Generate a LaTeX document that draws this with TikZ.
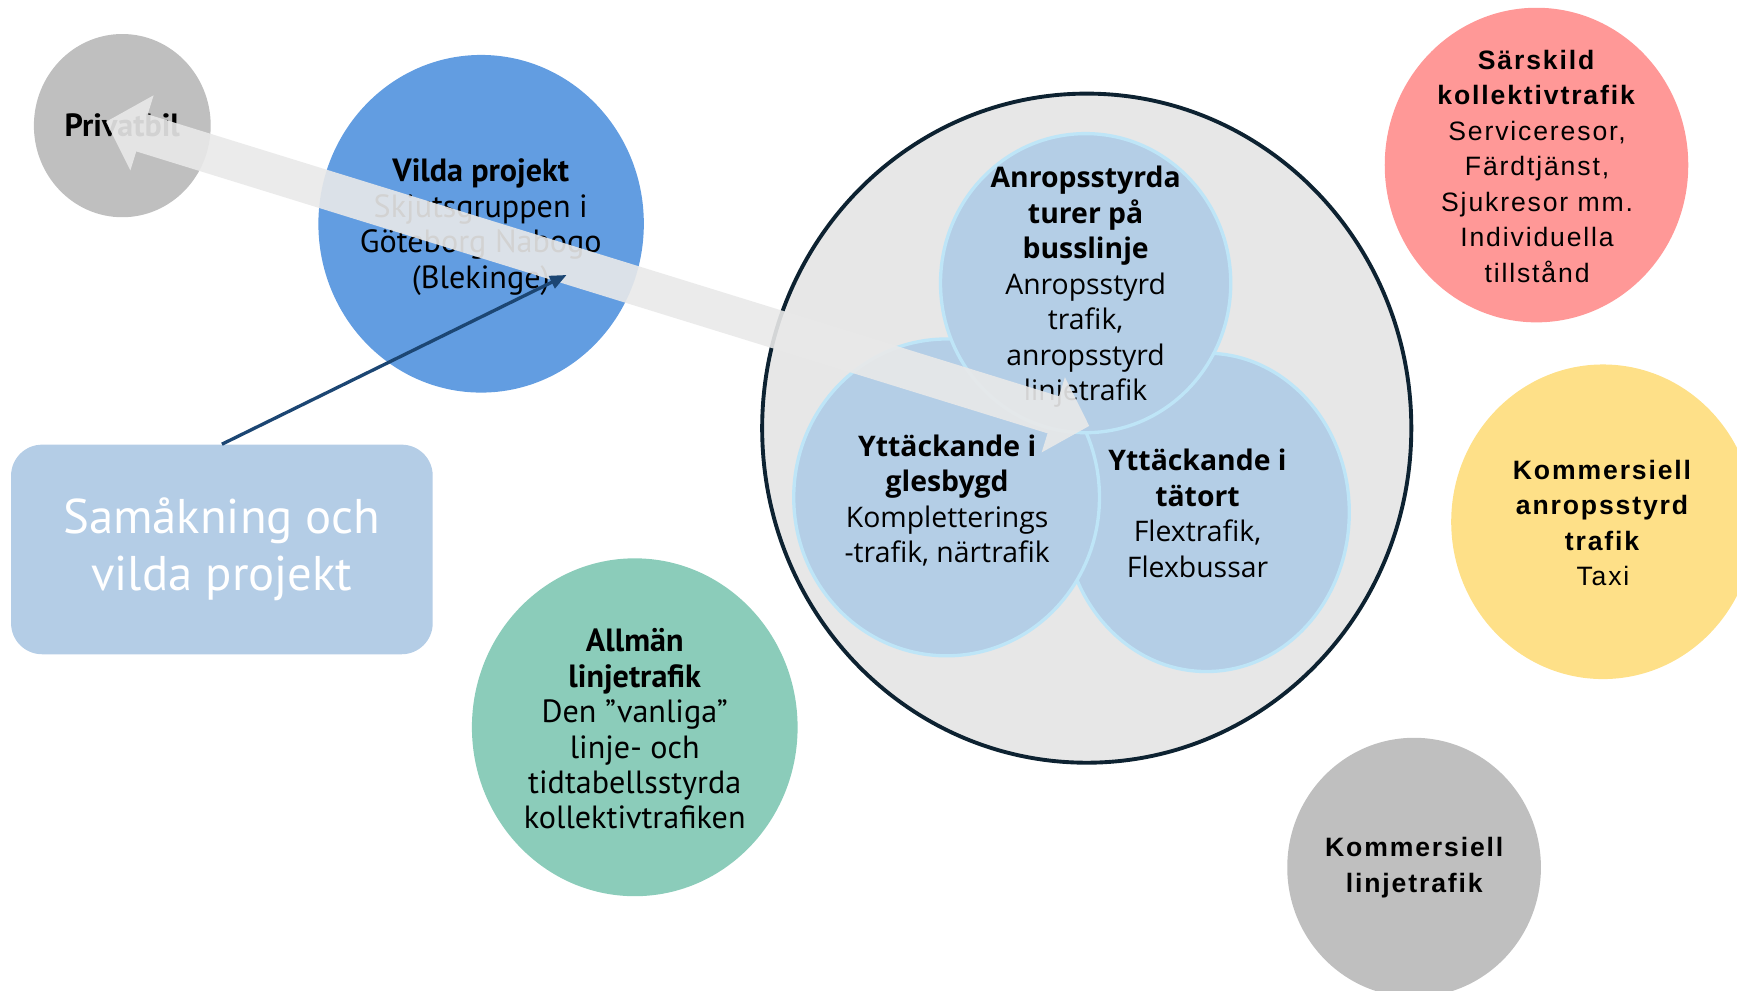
\documentclass[tikz,border=0pt]{standalone}
\usepackage{fontspec}
\setmainfont{PT Sans}
\newfontfamily\vennfont{Open Sans}
\newfontfamily\widefont[LetterSpace=7]{Liberation Sans}
\usetikzlibrary{shapes.geometric,arrows.meta}

\definecolor{bilgrey}{HTML}{BFBFBF}
\definecolor{vildablue}{HTML}{629DE1}
\definecolor{boxblue}{HTML}{B4CDE6}
\definecolor{vennblue}{HTML}{B4CEE6}
\definecolor{vennedge}{HTML}{BEE5F7}
\definecolor{outergrey}{HTML}{E7E7E7}
\definecolor{outeredge}{HTML}{0D2231}
\definecolor{sarskildred}{HTML}{FF9897}
\definecolor{taxiyellow}{HTML}{FEE088}
\definecolor{allmangreen}{HTML}{8BCCBA}
\definecolor{flowgrey}{HTML}{E9E9E9}
\definecolor{pointerblue}{HTML}{1C4673}

\tikzset{
  bubble/.style={ellipse, inner sep=0pt, draw=none},
  vennpart/.style={ellipse, inner sep=0pt, fill=vennblue, draw=vennedge, line width=1.5pt},
  plaintext/.style={align=center, inner sep=0pt, font=\fontsize{14.5}{16}\selectfont},
  venntext/.style={align=center, inner sep=0pt, font=\vennfont\fontsize{12.8}{16}\selectfont},
  widetext/.style={align=center, inner sep=0pt, font=\widefont\fontsize{12}{16}\selectfont},
}

\begin{document}
\begin{tikzpicture}[x=0.5pt,y=-0.5pt]
  \useasboundingbox (0,0) rectangle (1568,893.7);
  \clip (0,0) rectangle (1568,893.7);

  \node[bubble, fill=outergrey, draw=outeredge, line width=1.75pt,
    minimum width=293pt, minimum height=302pt] (outer) at (981,386.5) {};
  \node[vennpart, minimum width=129pt, minimum height=143.7pt] (tatort) at (1089,462.5) {};
  \node[vennpart, minimum width=138pt, minimum height=143pt] (glesbygd) at (854.5,449) {};
  \node[vennpart, minimum width=131pt, minimum height=135pt] (busslinje) at (980,255.6) {};

  \node[venntext] (busslinjetext) at (980,259) {\textbf{Anropsstyrda}\\\textbf{turer på}\\\textbf{busslinje}\\
    Anropsstyrd\\trafik,\\anropsstyrd\\linjetrafik};
  \node[venntext] (glesbygdtext) at (855,452) {\textbf{Yttäckande i}\\\textbf{glesbygd}\\
    Kompletterings\\-trafik, närtrafik};
  \node[venntext] (tatorttext) at (1081,463.5) {\textbf{Yttäckande i}\\\textbf{tätort}\\
    Flextrafik,\\Flexbussar};

  \node[bubble, fill=bilgrey, minimum width=79.8pt, minimum height=82.7pt] (privatbil) at (110.4,113.4) {};
  \node[plaintext] (privatbiltext) at (privatbil) {\textbf{Privatbil}};

  \node[bubble, fill=vildablue, minimum width=146.9pt, minimum height=152.4pt] (vilda) at (434.3,202) {};
  \node[plaintext] (vildatext) at (434,205) {\textbf{Vilda projekt}\\Skjutsgruppen i\\Göteborg Nabogo\\(Blekinge)};

  \node[bubble, fill=allmangreen, minimum width=147pt, minimum height=152.5pt] (allman) at (573,656.5) {};
  \node[plaintext] (allmantext) at (573,658) {\textbf{Allmän}\\\textbf{linjetrafik}\\Den ”vanliga”\\
    linje- och\\tidtabellsstyrda\\kollektivtrafiken};

  \node[bubble, fill=sarskildred, minimum width=137pt, minimum height=142pt] (sarskild) at (1387,149) {};
  \node[widetext] (sarskildtext) at (1387.5,150) {\textbf{Särskild}\\\textbf{kollektivtrafik}\\
    Serviceresor,\\Färdtjänst,\\Sjukresor mm.\\Individuella\\tillstånd};

  \node[bubble, fill=taxiyellow, minimum width=137pt, minimum height=142pt] (taxi) at (1447,471) {};
  \node[widetext] (taxitext) at (1447,472) {\textbf{Kommersiell}\\\textbf{anropsstyrd}\\\textbf{trafik}\\Taxi};

  \node[bubble, fill=bilgrey, minimum width=114.5pt, minimum height=117pt] (kommersiell) at (1276.5,783) {};
  \node[widetext] (kommersielltext) at (1277.5,783) {\textbf{Kommersiell}\\\textbf{linjetrafik}};

  \node[rectangle, rounded corners=14pt, fill=boxblue, inner sep=0pt,
    minimum width=190.3pt, minimum height=94.6pt, text=white, align=center,
    font=\fontsize{22}{26}\selectfont] (samakning) at (200.3,496) {Samåkning och\\vilda projekt};

  \coordinate (privtip) at (95.7,109.9);
  \coordinate (venntip) at (983.3,384.5);
  \coordinate (vildatip) at (511.5,248.2);

  \begin{scope}[transparency group, opacity=0.9]
    \draw[flowgrey, line width=17.5pt,
      {Triangle[length=17pt,width=34.5pt]}-{Triangle[length=17pt,width=34.5pt]}] (privtip) -- (venntip);
  \end{scope}

  \draw[pointerblue, line width=1.5pt, -{Triangle[length=7.5pt,width=6pt]}] (samakning.north) -- (vildatip);
\end{tikzpicture}
\end{document}
